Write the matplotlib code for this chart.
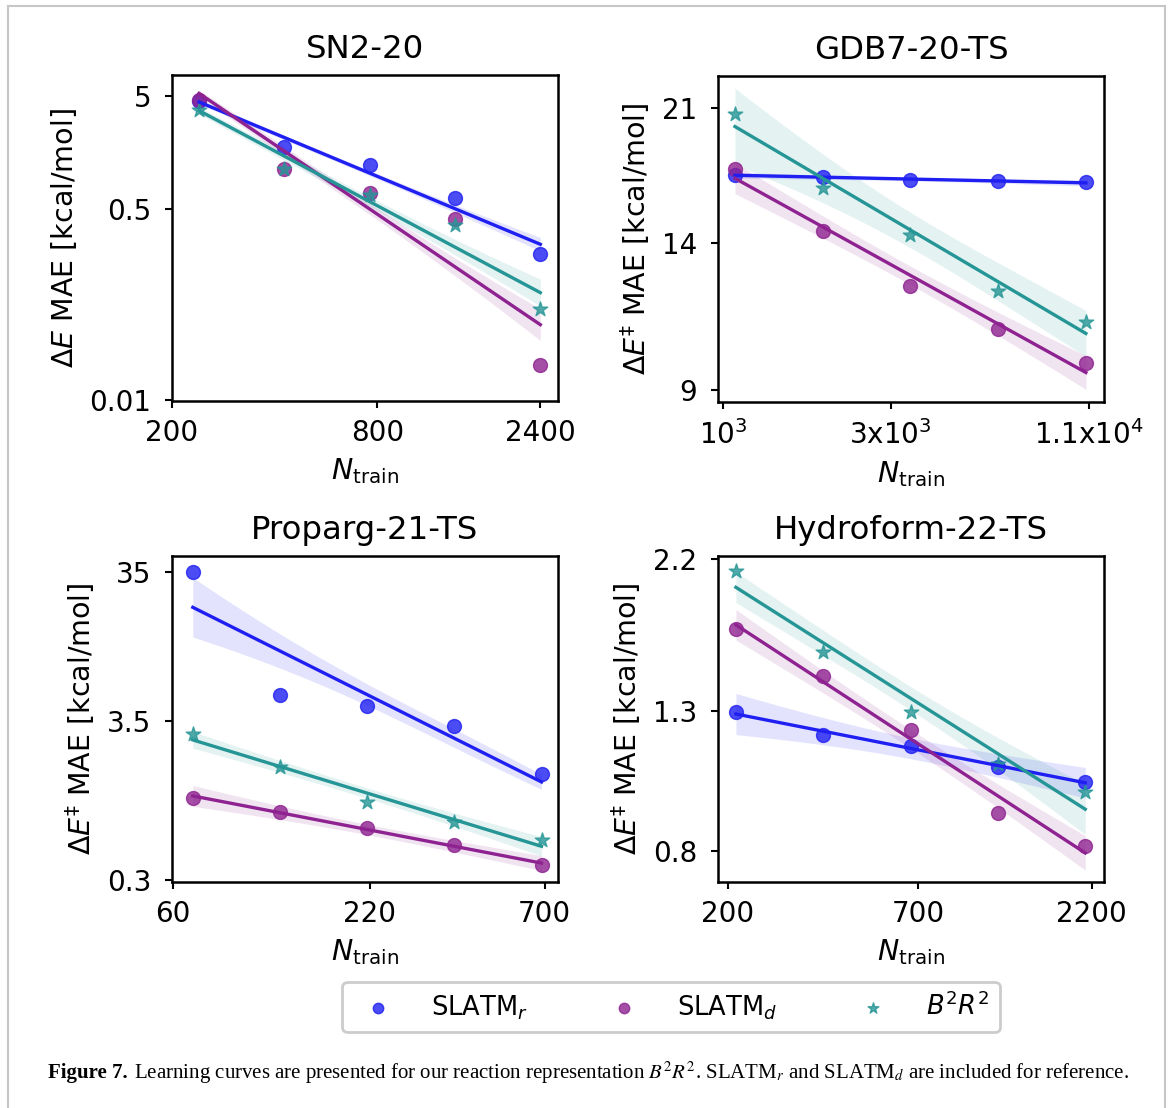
import numpy as np
import matplotlib
matplotlib.use("Agg")
import matplotlib.pyplot as plt
from matplotlib.lines import Line2D
from matplotlib.text import Annotation

n_sn2 = [240, 427, 759, 1350, 2400]
n_gdb = [1080, 1921, 3415, 6073, 10800]
n_proparg = [68.5, 122, 217, 385, 685]
n_hydro = [211, 375, 667, 1187, 2110]

# MAE values in kcal/mol, one list per representation and dataset
sn2_slatm_r = [4.48, 1.76, 1.21, 0.626, 0.199]
sn2_slatm_d = [4.58, 1.13, 0.69, 0.41, 0.0208]
sn2_b2r2 = [3.78, 1.13, 0.657, 0.356, 0.0648]

gdb_slatm_r = [17.17, 17.07, 16.93, 16.86, 16.79]
gdb_slatm_d = [17.5, 14.5, 12.31, 10.82, 9.77]
gdb_b2r2 = [20.6, 16.5, 14.35, 12.12, 11.05]

proparg_slatm_r = [35.0, 5.22, 4.37, 3.22, 1.53]
proparg_slatm_d = [1.067, 0.849, 0.669, 0.516, 0.374]
proparg_b2r2 = [2.83, 1.70, 1.00, 0.734, 0.552]

hydro_slatm_r = [1.294, 1.199, 1.153, 1.072, 1.016]
hydro_slatm_d = [1.726, 1.468, 1.217, 0.915, 0.814]
hydro_b2r2 = [2.113, 1.597, 1.294, 1.084, 0.981]

# half width of the confidence band (log10 units) at the smallest / largest N
sn2_band = [(0.02, 0.06), (0.03, 0.14), (0.03, 0.12)]
gdb_band = [(0.004, 0.004), (0.02, 0.022), (0.05, 0.03)]
proparg_band = [(0.2, 0.05), (0.07, 0.05), (0.055, 0.065)]
hydro_band = [(0.031, 0.023), (0.023, 0.026), (0.023, 0.038)]

titles = ["SN2-20", "GDB7-20-TS", "Proparg-21-TS", "Hydroform-22-TS"]
xtick_vals = [[200, 800, 2400], [1000, 3000, 11000], [60, 220, 700], [200, 700, 2200]]
xtick_labels = [["200", "800", "2400"],
                [r"$10^3$", r"3x$10^3$", r"1.1x$10^4$"],
                ["60", "220", "700"],
                ["200", "700", "2200"]]
ytick_vals = [[0.01, 0.5, 5], [9, 14, 21], [0.3, 3.5, 35], [0.8, 1.3, 2.2]]
ytick_labels = [["0.01", "0.5", "5"], ["9", "14", "21"], ["0.3", "3.5", "35"], ["0.8", "1.3", "2.2"]]

labels = [r"SLATM$_r$", r"SLATM$_d$", r"$B^2R^2$"]
colors = ["#1f1ff2", "#8e2290", "#259595"]
markers = ["o", "o", "*"]

datasets = [
    (n_sn2, [sn2_slatm_r, sn2_slatm_d, sn2_b2r2], sn2_band),
    (n_gdb, [gdb_slatm_r, gdb_slatm_d, gdb_b2r2], gdb_band),
    (n_proparg, [proparg_slatm_r, proparg_slatm_d, proparg_b2r2], proparg_band),
    (n_hydro, [hydro_slatm_r, hydro_slatm_d, hydro_b2r2], hydro_band),
]

# axis limits in log10 units
xlims = [(2.301, 3.432), (2.985, 4.085), (1.776, 2.883), (2.273, 3.378)]
ylims = [(-2.005, 0.885), (0.9386, 1.364), (-0.5387, 1.650), (-0.1431, 0.3474)]

W, H = 1171, 1108
fig = plt.figure(figsize=(W / 100, H / 100), dpi=100)

# axes boxes in pixels: left, top
boxes = [(172, 75), (718, 76), (172, 556), (718, 556)]
aw, ah = 386, 326

handles = []
for i, (n, series, bands) in enumerate(datasets):
    left, top = boxes[i]
    ax = fig.add_axes([left / W, 1 - (top + ah) / H, aw / W, ah / H])
    lx = np.log10(n)
    grid = np.linspace(lx.min(), lx.max(), 100)
    t = (grid - grid[0]) / (grid[-1] - grid[0])
    # hyperbolic narrowing towards the middle, like a regression CI
    shape = np.sqrt((1 + 2 * (2 * t - 1) ** 2) / 3)
    for s, lab, c, m, (wl, wr) in zip(series, labels, colors, markers, bands):
        ly = np.log10(s)
        slope, icpt = np.polyfit(lx, ly, 1)
        fit = slope * grid + icpt
        half = (wl * (1 - t) + wr * t) * shape
        sc = ax.scatter(lx, ly, s=120 if m == "*" else 100, marker=m, color=c,
                        alpha=0.8, linewidths=1, label=lab, zorder=2)
        ax.plot(grid, fit, color=c, lw=2.4, zorder=3)
        ax.fill_between(grid, fit - half, fit + half, color=c, alpha=0.12,
                        linewidth=0, zorder=1)
        if i == 0:
            handles.append(sc)
    ax.set_xlim(*xlims[i])
    ax.set_ylim(*ylims[i])
    ax.set_xticks(np.log10(xtick_vals[i]))
    ax.set_xticklabels(xtick_labels[i])
    ax.set_yticks(np.log10(ytick_vals[i]))
    ax.set_yticklabels(ytick_labels[i])
    ax.tick_params(labelsize=20, width=1.5, length=5)
    ax.tick_params(axis="x", pad=8)
    ax.tick_params(axis="y", pad=10)
    for sp in ax.spines.values():
        sp.set_linewidth(1.8)
    ax.set_title(titles[i], fontsize=23.3, pad=12)
    ax.set_xlabel(r"$N_{\mathrm{train}}$", fontsize=20.5, labelpad=6.5)
    if i == 0:
        ax.set_ylabel(r"$\Delta E$ MAE [kcal/mol]", fontsize=20.5, labelpad=7)
    else:
        ax.set_ylabel(r"$\Delta E^{\ddagger}$ MAE [kcal/mol]", fontsize=20.5, labelpad=7)

leg = fig.legend(handles, labels, loc="center",
                 bbox_to_anchor=(671 / W, 1 - 1007 / H), ncol=3, fontsize=18.5,
                 markerscale=0.75, handletextpad=1.05, columnspacing=2.75,
                 edgecolor="0.8", framealpha=1)
leg.get_frame().set_linewidth(2)

# caption
cap_y = 1 - 1073 / H
t1 = fig.text(48 / W, cap_y, "Figure 7.", fontweight="bold",
              family="Liberation Serif", fontsize=15, va="center")
rest = (r" Learning curves are presented for our reaction representation $B^2R^2$. "
        r"SLATM$_r$ and SLATM$_d$ are included for reference.")
ann = Annotation(rest, xy=(1, 0.5), xycoords=t1, xytext=(1, 0),
                 textcoords="offset points", va="center", ha="left",
                 family="Liberation Serif", fontsize=15, math_fontfamily="stix")
fig.add_artist(ann)

# page border
bc = "#c6c6c6"
fig.add_artist(Line2D([8 / W, 8 / W], [0, 1 - 6 / H], color=bc, lw=1.5, transform=fig.transFigure))
fig.add_artist(Line2D([8 / W, 1165 / W], [1 - 6 / H, 1 - 6 / H], color=bc, lw=1.5, transform=fig.transFigure))
fig.add_artist(Line2D([1165 / W, 1165 / W], [0, 1 - 6 / H], color=bc, lw=1.5, transform=fig.transFigure))

fig.savefig("out.png", dpi=100)
